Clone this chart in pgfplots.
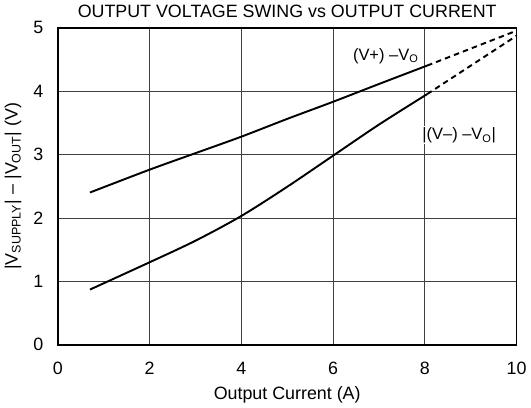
\documentclass[border=0pt]{standalone}
\usepackage{fontspec}
\setmainfont{Liberation Sans}
\usepackage{pgfplots}
\pgfplotsset{compat=1.18}

\pgfplotsset{
  curve/.style={black, line width=1.4pt, no markers},
  ext/.style={black, line width=1.4pt, dash pattern=on 4pt off 3pt, no markers},
}

\begin{document}
\begin{tikzpicture}
  \begin{axis}[
      width=334pt, height=231pt, scale only axis,
      xmin=0, xmax=10, ymin=0, ymax=5,
      xtick={0,2,...,10}, ytick={0,1,...,5},
      grid=major,
      major grid style={black!75, line width=0.5pt},
      axis line style={line width=1.4pt},
      major tick length=0pt,
      /pgf/number format/assume math mode=true,
      tick label style={font=\fontsize{13}{15}\selectfont},
      xticklabel style={yshift=-9pt},
      yticklabel style={xshift=-7pt},
      title={OUTPUT VOLTAGE SWING vs OUTPUT CURRENT},
      title style={font=\fontsize{13}{15}\selectfont, yshift=-2pt},
      xlabel={Output Current (A)},
      xlabel style={font=\fontsize{13}{15}\selectfont, yshift=-2pt},
      ylabel={|V\textsubscript{SUPPLY}| -- |V\textsubscript{OUT}| (V)},
      ylabel style={font=\fontsize{13}{15}\selectfont, yshift=2pt},
      clip=false,
    ]
    % (V+) - Vo
    \addplot[curve, smooth] coordinates {
      (0.7,2.40) (2,2.76) (3,3.02) (4,3.28) (5,3.56) (6,3.83) (7,4.11) (8.05,4.40)
    };
    \addplot[ext] coordinates {(8.05,4.40) (10,4.95)};
    % |(V-) - Vo|
    \addplot[curve, smooth] coordinates {
      (0.7,0.87) (2,1.30) (3,1.64) (4,2.03) (5,2.49) (6,2.98) (7,3.47) (8.05,3.95)
    };
    \addplot[ext] coordinates {(8.05,3.95) (10,4.87)};

    \node[font=\fontsize{12}{14}\selectfont] at (axis cs:7.15,4.55) {(V+) --V\textsubscript{O}};
    \node[font=\fontsize{12}{14}\selectfont, fill=white, inner sep=1pt] at (axis cs:8.75,3.3) {|(V--) --V\textsubscript{O}|};
  \end{axis}
\end{tikzpicture}
\end{document}
